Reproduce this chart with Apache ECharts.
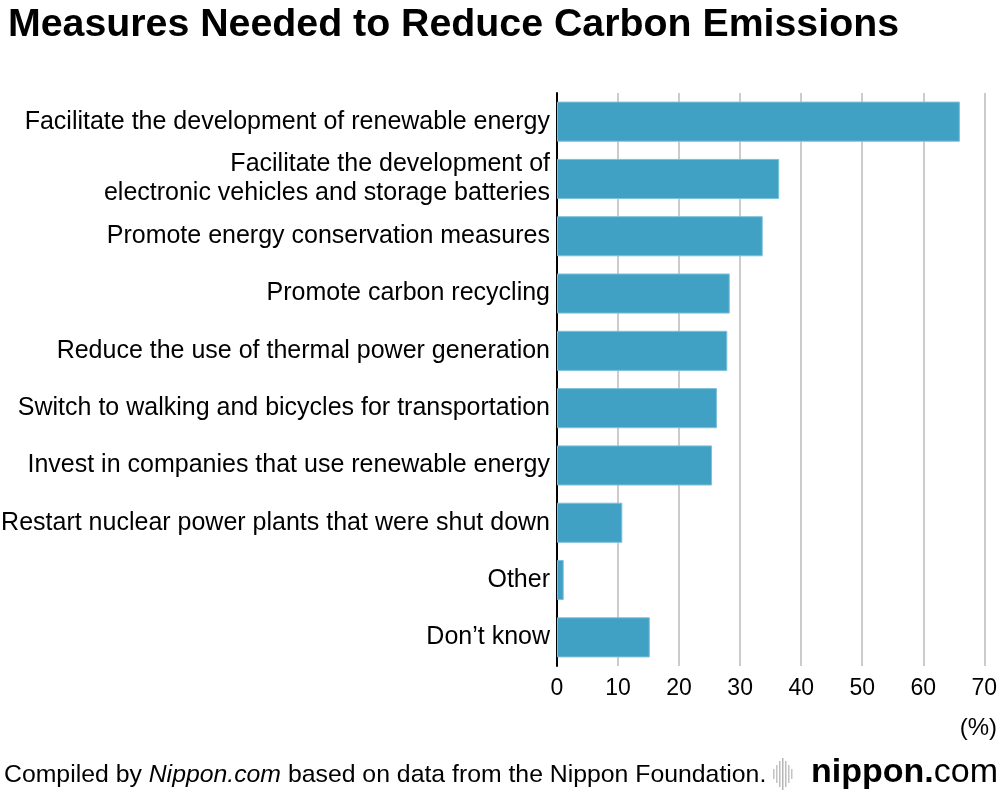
<!DOCTYPE html>
<html><head><meta charset="utf-8">
<script src="https://cdn.jsdelivr.net/npm/echarts@6/dist/echarts.min.js"></script>
<style>html,body{margin:0;padding:0;background:#fff}#c{width:1000px;height:796px}</style>
</head><body><div id="c"></div>
<script>
const categories = [
  "Facilitate the development of renewable energy",
  "Facilitate the development of\nelectronic vehicles and storage batteries",
  "Promote energy conservation measures",
  "Promote carbon recycling",
  "Reduce the use of thermal power generation",
  "Switch to walking and bicycles for transportation",
  "Invest in companies that use renewable energy",
  "Restart nuclear power plants that were shut down",
  "Other",
  "Don\u2019t know"
];
const values = [66.0, 36.4, 33.7, 28.3, 27.9, 26.2, 25.4, 10.7, 1.1, 15.2];
const xTicks = [0, 10, 20, 30, 40, 50, 60, 70];

const FONT = "'Liberation Sans', Arial, sans-serif";
const chart = echarts.init(document.getElementById('c'), null, {renderer: 'canvas'});
chart.setOption({
  animation: false,
  backgroundColor: '#fff',
  title: {
    text: 'Measures Needed to Reduce Carbon Emissions',
    left: 3, top: 1,
    textStyle: {fontFamily: FONT, fontWeight: 'bold', fontSize: 39.3, color: '#000'}
  },
  grid: {left: 557, right: 15.7, top: 93, bottom: 130, containLabel: false, outerBoundsMode: 'none'},
  xAxis: {
    type: 'value', min: xTicks[0], max: xTicks[xTicks.length - 1], interval: 10,
    axisLine: {show: false}, axisTick: {show: false},
    splitLine: {show: true, lineStyle: {color: '#cccccc', width: 2}},
    axisLabel: {fontFamily: FONT, fontSize: 23, color: '#000', margin: 11}
  },
  yAxis: {
    type: 'category', data: categories, inverse: true,
    axisLine: {show: true, lineStyle: {color: '#000', width: 2}},
    axisTick: {show: false},
    axisLabel: {fontFamily: FONT, fontSize: 25, color: '#000', margin: 7, lineHeight: 29, align: 'right', padding: [3, 0, 0, 0]}
  },
  series: [{
    type: 'bar', data: values, barCategoryGap: '30%',
    itemStyle: {color: '#41a1c4', borderColor: '#7cc0da', borderWidth: 1}
  }],
  graphic: [
    {type: 'text', right: 3, top: 716, style: {text: '(%)', font: '24px ' + FONT, fill: '#000'}},
    {type: 'text', left: 4, top: 763, style: {
      text: '{n|Compiled by }{i|Nippon.com}{n| based on data from the Nippon Foundation.}',
      rich: {
        n: {fontFamily: FONT, fontSize: 24.8, color: '#000'},
        i: {fontFamily: FONT, fontSize: 24.8, fontStyle: 'italic', color: '#000'}
      }
    }},
    {type: 'group', left: 773, top: 758, children: [
      {type: 'rect', shape: {x: 0, y: 12, width: 1.5, height: 10}, style: {fill: '#c4c4c4'}},
      {type: 'rect', shape: {x: 3, y: 8, width: 1.5, height: 18}, style: {fill: '#c4c4c4'}},
      {type: 'rect', shape: {x: 6, y: 4, width: 1.5, height: 26}, style: {fill: '#bdbdbd'}},
      {type: 'rect', shape: {x: 9, y: 1, width: 1.5, height: 32}, style: {fill: '#b5b5b5'}},
      {type: 'rect', shape: {x: 12, y: 4, width: 1.5, height: 26}, style: {fill: '#bdbdbd'}},
      {type: 'rect', shape: {x: 15, y: 8, width: 1.5, height: 18}, style: {fill: '#c4c4c4'}},
      {type: 'rect', shape: {x: 18, y: 12, width: 1.5, height: 10}, style: {fill: '#c4c4c4'}}
    ]},
    {type: 'text', right: 2, top: 756, style: {
      text: '{a|nippon}{b|.}{c|com}',
      rich: {
        a: {fontFamily: FONT, fontSize: 34, fontWeight: 'bold', color: '#808080'},
        b: {fontFamily: FONT, fontSize: 34, fontWeight: 'bold', color: '#e60012'},
        c: {fontFamily: FONT, fontSize: 34, fontWeight: 'lighter', color: '#a8a8a8'}
      }
    }}
  ]
});
</script></body></html>
